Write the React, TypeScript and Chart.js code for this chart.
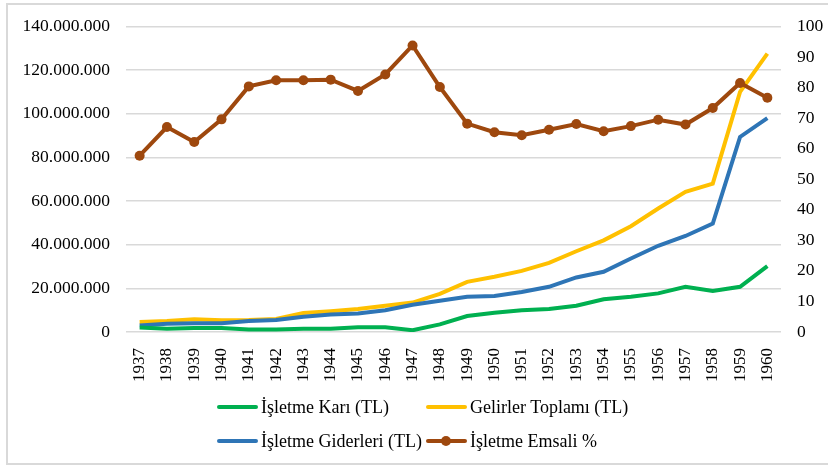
import React, { useEffect, useRef } from "react";
import { Chart, registerables } from "chart.js";

Chart.register(...registerables);

const years = ["1937","1938","1939","1940","1941","1942","1943","1944","1945","1946","1947","1948","1949","1950","1951","1952","1953","1954","1955","1956","1957","1958","1959","1960"];

const isletmeKari = [2100000,1500000,1800000,1800000,1200000,1200000,1500000,1500000,2200000,2200000,800000,3500000,7300000,8800000,10000000,10500000,12000000,15000000,16200000,17700000,20700000,18800000,20700000,30200000];

const gelirlerToplami = [4600000,5000000,5800000,5400000,5500000,6000000,8700000,9500000,10500000,12000000,13500000,17500000,23000000,25300000,28000000,31700000,37000000,42000000,48500000,56600000,64200000,68000000,110000000,127600000];

const isletmeGiderleri = [3000000,3800000,4000000,4000000,5000000,5500000,7000000,8000000,8500000,10000000,12500000,14300000,16200000,16500000,18300000,20700000,25000000,27600000,33700000,39500000,44000000,49700000,89400000,98000000];

const isletmeEmsali = [57.7,67.1,62.2,69.6,80.4,82.4,82.4,82.6,78.9,84.3,93.8,80.2,68.2,65.4,64.4,66.2,68.1,65.7,67.4,69.5,67.9,73.3,81.5,76.7];

const leftTicksMax = 140000000;
const leftTicksStep = 20000000;
const rightTicksMax = 100;
const rightTicksStep = 10;

const labels = {
  kari: "İşletme Karı (TL)",
  gelir: "Gelirler Toplamı (TL)",
  gider: "İşletme Giderleri (TL)",
  emsal: "İşletme Emsali %",
};

const GREEN = "#00B050";
const YELLOW = "#FFC000";
const BLUE = "#2E75B6";
const BROWN = "#9E480E";
const FONT = "'Liberation Serif', 'Times New Roman', serif";

function fmt(v: number) {
  return String(Math.round(v)).replace(/\B(?=(\d{3})+(?!\d))/g, ".");
}

function LegendItem(props: { x: number; y: number; color: string; text: string; dot?: boolean }) {
  const { x, y, color, text, dot } = props;
  return (
    <div style={{ position: "absolute", left: x, top: y - 12, height: 24, display: "flex", alignItems: "center" }}>
      <div style={{ position: "relative", width: 41, height: 24, marginRight: 3 }}>
        <div style={{ position: "absolute", left: 0, top: 10, width: 41, height: 4, background: color, borderRadius: 2 }} />
        {dot ? (
          <div style={{ position: "absolute", left: 15, top: 7, width: 10, height: 10, borderRadius: 5, background: color }} />
        ) : null}
      </div>
      <span style={{ fontFamily: FONT, fontSize: 18, color: "#000", whiteSpace: "nowrap" }}>{text}</span>
    </div>
  );
}

export default function App() {
  const ref = useRef<HTMLCanvasElement | null>(null);

  useEffect(() => {
    if (!ref.current) return;
    const chart = new Chart(ref.current, {
      type: "line",
      data: {
        labels: years,
        datasets: [
          { label: labels.kari, data: isletmeKari, borderColor: GREEN, backgroundColor: GREEN, borderWidth: 4, pointRadius: 0, yAxisID: "y", order: 1, tension: 0 },
          { label: labels.gelir, data: gelirlerToplami, borderColor: YELLOW, backgroundColor: YELLOW, borderWidth: 4, pointRadius: 0, yAxisID: "y", order: 3, tension: 0 },
          { label: labels.gider, data: isletmeGiderleri, borderColor: BLUE, backgroundColor: BLUE, borderWidth: 4, pointRadius: 0, yAxisID: "y", order: 2, tension: 0 },
          { label: labels.emsal, data: isletmeEmsali, borderColor: BROWN, backgroundColor: BROWN, borderWidth: 4, pointRadius: 5, pointBorderWidth: 0, yAxisID: "y1", order: 0, tension: 0 },
        ],
      },
      options: {
        animation: false,
        responsive: false,
        maintainAspectRatio: false,
        layout: { padding: { top: 26, left: 0, right: 0, bottom: 0 } },
        plugins: { legend: { display: false }, tooltip: { enabled: false } },
        scales: {
          x: {
            offset: true,
            grid: { display: false, offset: true },
            border: { display: false },
            ticks: {
              autoSkip: false,
              minRotation: 90,
              maxRotation: 90,
              padding: 8,
              color: "#000",
              font: { family: FONT, size: 17 },
            },
            afterFit: (s: any) => { s.height = 134; },
          },
          y: {
            position: "left",
            min: 0,
            max: leftTicksMax,
            ticks: {
              stepSize: leftTicksStep,
              padding: 16,
              color: "#000",
              font: { family: FONT, size: 17.5 },
              callback: (v: any) => fmt(Number(v)),
            },
            grid: { color: "#d9d9d9", lineWidth: 1.5, drawTicks: false },
            border: { display: false },
            afterFit: (s: any) => { s.width = 126; },
          },
          y1: {
            position: "right",
            min: 0,
            max: rightTicksMax,
            ticks: {
              stepSize: rightTicksStep,
              padding: 16,
              color: "#000",
              font: { family: FONT, size: 17.5 },
            },
            grid: { display: false, drawTicks: false },
            border: { display: false },
            afterFit: (s: any) => { s.width = 47; },
          },
        },
      },
    });
    return () => chart.destroy();
  }, []);

  return (
    <div style={{ position: "absolute", left: 0, top: 0, width: 828, height: 466, background: "#fff", overflow: "hidden" }}>
      <div style={{ position: "absolute", left: 6, top: 3, width: 840, height: 462, boxSizing: "border-box", border: "2px solid #d9d9d9" }} />
      <canvas ref={ref} width={828} height={466} style={{ position: "absolute", left: 0, top: 0, width: 828, height: 466 }} />
      <LegendItem x={217} y={407} color={GREEN} text={labels.kari} />
      <LegendItem x={426} y={407} color={YELLOW} text={labels.gelir} />
      <LegendItem x={217} y={441} color={BLUE} text={labels.gider} />
      <LegendItem x={426} y={441} color={BROWN} text={labels.emsal} dot />
    </div>
  );
}
